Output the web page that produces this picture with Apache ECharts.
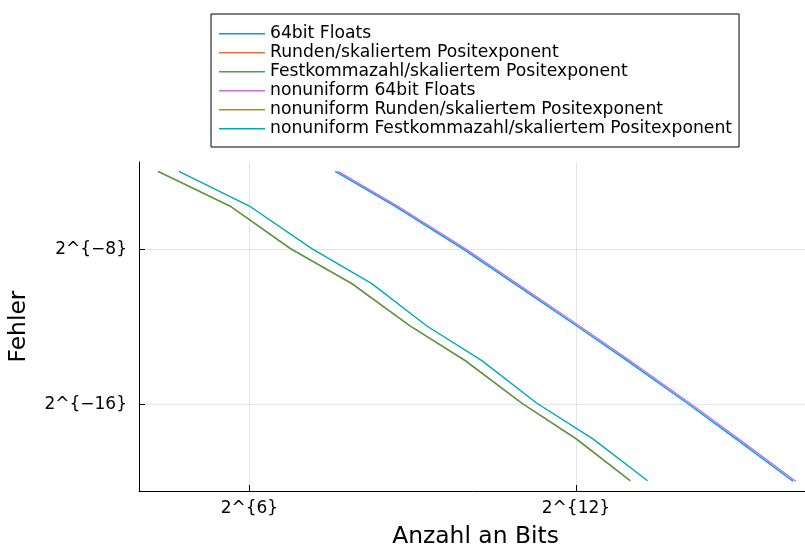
<!DOCTYPE html>
<html>
<head>
<meta charset="utf-8">
<script src="https://cdn.jsdelivr.net/npm/echarts@6/dist/echarts.min.js"></script>
<style>
html,body{margin:0;padding:0;background:#fff;}
#chart{width:805px;height:547px;}
</style>
</head>
<body>
<div id="chart"></div>
<script>
// ---- data ----
const seriesNames = [
  '64bit Floats',
  'Runden/skaliertem Positexponent',
  'Festkommazahl/skaliertem Positexponent',
  'nonuniform 64bit Floats',
  'nonuniform Runden/skaliertem Positexponent',
  'nonuniform Festkommazahl/skaliertem Positexponent'
];
const bitsFloat = [191, 408, 965, 1870, 4140, 7850, 16900, 31400, 65000];
const errFloat = [0.0630, 0.01829, 0.003984, 0.001141, 0.0002503, 7.25e-5, 1.578e-5, 4.42e-6, 9.7e-7];
const bitsRunden = [20, 50, 108, 236, 496, 1000, 2058, 4113, 8181];
const errRunden = [0.0632, 0.01829, 0.003984, 0.001141, 0.0002503, 7.25e-5, 1.578e-5, 4.42e-6, 9.88e-7];
const bitsFestkomma = [20, 50, 108, 236, 496, 1000, 2058, 4113, 8181];
const errFestkomma = [0.0632, 0.01829, 0.003984, 0.001141, 0.0002503, 7.25e-5, 1.578e-5, 4.42e-6, 9.88e-7];
const bitsNonuniformFloat = [198, 422, 999, 1935, 4285, 8125, 17490, 32500, 67270];
const errNonuniformFloat = [0.0630, 0.01829, 0.003984, 0.001141, 0.0002503, 7.25e-5, 1.578e-5, 4.42e-6, 9.7e-7];
const bitsNonuniformRunden = [20, 50, 108, 236, 496, 1000, 2058, 4113, 8181];
const errNonuniformRunden = [0.0632, 0.01829, 0.003984, 0.001141, 0.0002503, 7.25e-5, 1.578e-5, 4.42e-6, 9.88e-7];
const bitsNonuniformFestkomma = [26.1, 64, 141.7, 304.4, 613.6, 1236, 2490, 5085, 10197];
const errNonuniformFestkomma = [0.0632, 0.01829, 0.003984, 0.001141, 0.0002503, 7.25e-5, 1.578e-5, 4.42e-6, 9.88e-7];

const xTickValues = [64, 4096];
const xTickLabels = ['2^{6}', '2^{12}'];
const yTickValues = [Math.pow(2, -8), Math.pow(2, -16)];
const yTickLabels = ['2^{\u22128}', '2^{\u221216}'];

const xMin = Math.pow(2, 3.972), xMax = Math.pow(2, 16.337);
const yMin = Math.pow(2, -20.48), yMax = Math.pow(2, -3.50);

const colors = ['#009afa', '#e36f47', '#3ea44e', '#c371d2', '#ac8e18', '#00aaae'];
const bitsAll = [bitsFloat, bitsRunden, bitsFestkomma, bitsNonuniformFloat, bitsNonuniformRunden, bitsNonuniformFestkomma];
const errAll = [errFloat, errRunden, errFestkomma, errNonuniformFloat, errNonuniformRunden, errNonuniformFestkomma];
const opac = [1, 1, 1, 1, 0.15, 1];

function labelFor(vals, labels) {
  return function (v) {
    for (let i = 0; i < vals.length; i++) {
      if (Math.abs(Math.log2(v) - Math.log2(vals[i])) < 1e-6) return labels[i];
    }
    return '';
  };
}

const FONT = 'DejaVu Sans';
const chart = echarts.init(document.getElementById('chart'), null, {renderer: 'canvas'});
chart.setOption({
  animation: false,
  backgroundColor: '#fff',
  color: colors,
  textStyle: {fontFamily: FONT},
  grid: {left: 139, top: 162, width: 673, height: 329, containLabel: false, outerBoundsMode: 'none'},
  legend: {
    orient: 'vertical',
    left: 211, top: 14,
    padding: [11.2, 7, 9.8, 8],
    itemGap: 2.0,
    itemWidth: 46, itemHeight: 1.5,
    icon: 'rect',
    backgroundColor: '#fff',
    borderColor: '#000', borderWidth: 1,
    textStyle: {fontFamily: FONT, fontSize: 17.2, color: '#000'},
    data: seriesNames.map(function (n, i) { return {name: n, itemStyle: {color: colors[i], opacity: 1}}; })
  },
  xAxis: {
    type: 'log', logBase: 2,
    min: xMin, max: xMax,
    name: 'Anzahl an Bits',
    nameLocation: 'middle', nameGap: 34,
    nameTextStyle: {fontFamily: FONT, fontSize: 23.4, color: '#000'},
    axisLine: {lineStyle: {color: '#000', width: 1}},
    axisTick: {inside: true, length: 6, customValues: xTickValues, lineStyle: {color: '#000'}},
    axisLabel: {customValues: xTickValues, formatter: labelFor(xTickValues, xTickLabels),
      fontFamily: FONT, fontSize: 17, color: '#000', margin: 9},
    splitLine: {show: true, lineStyle: {color: 'rgba(0,0,0,0.1)', width: 1}},
    minorTick: {show: false}
  },
  yAxis: {
    type: 'log', logBase: 2,
    min: yMin, max: yMax,
    name: 'Fehler',
    nameLocation: 'middle', nameGap: 109, nameRotate: 90,
    nameTextStyle: {fontFamily: FONT, fontSize: 23.4, color: '#000'},
    axisLine: {lineStyle: {color: '#000', width: 1}},
    axisTick: {inside: true, length: 6, customValues: yTickValues, lineStyle: {color: '#000'}},
    axisLabel: {customValues: yTickValues, formatter: labelFor(yTickValues, yTickLabels),
      fontFamily: FONT, fontSize: 17, color: '#000', margin: 12},
    splitLine: {show: true, lineStyle: {color: 'rgba(0,0,0,0.1)', width: 1}}
  },
  series: seriesNames.map(function (name, i) {
    return {
      name: name,
      type: 'line',
      symbol: 'none',
      z: 2 + i,
      lineStyle: {width: 1.4, color: colors[i], opacity: opac[i]},
      itemStyle: {color: colors[i]},
      data: bitsAll[i].map(function (b, k) { return [b, errAll[i][k]]; })
    };
  })
});
</script>
</body>
</html>
